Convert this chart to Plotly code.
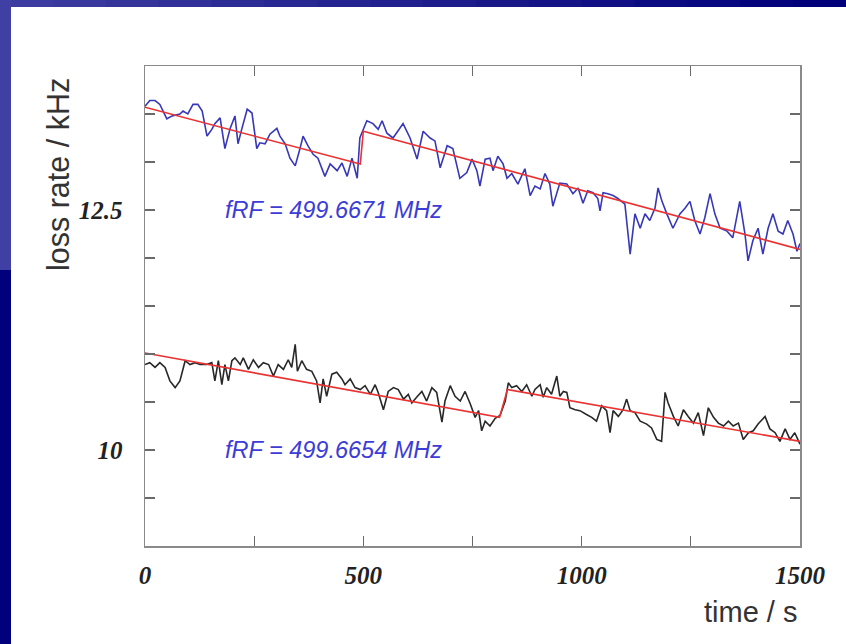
import plotly.graph_objects as go

# ---- data ----
time_blue = [0, 11, 23, 34, 50, 62, 80, 87, 98, 110,
             121, 131, 142, 153, 160, 172, 183, 195, 206, 213,
             222, 234, 245, 256, 263, 275, 286, 302, 309, 321,
             332, 344, 355, 362, 373, 385, 396, 412, 424, 440,
             451, 463, 474, 486, 492, 508, 522, 534, 543, 554,
             568, 591, 607, 623, 637, 653, 664, 676, 692, 705,
             721, 737, 749, 760, 767, 779, 790, 797, 808, 820,
             829, 840, 854, 870, 882, 893, 905, 916, 927, 934,
             950, 966, 980, 992, 1003, 1014, 1026, 1037, 1042, 1049,
             1060, 1072, 1083, 1099, 1111, 1122, 1134, 1145, 1156, 1168,
             1175, 1184, 1195, 1209, 1225, 1237, 1248, 1259, 1271, 1282,
             1294, 1305, 1317, 1333, 1346, 1362, 1374, 1381, 1392, 1404,
             1415, 1427, 1438, 1450, 1461, 1472, 1484, 1493, 1500]
loss_blue = [13.58, 13.64, 13.64, 13.60, 13.45, 13.48, 13.50, 13.53, 13.50, 13.60,
             13.60, 13.53, 13.27, 13.34, 13.40, 13.46, 13.14, 13.35, 13.48, 13.19,
             13.35, 13.55, 13.51, 13.14, 13.20, 13.19, 13.29, 13.35, 13.27, 13.19,
             13.04, 12.96, 13.14, 13.27, 13.17, 13.08, 13.04, 12.85, 12.98, 12.91,
             12.99, 12.85, 13.04, 12.83, 13.25, 13.43, 13.40, 13.34, 13.43, 13.30,
             13.25, 13.40, 13.25, 13.03, 13.32, 13.25, 13.22, 12.94, 13.17, 13.14,
             12.83, 12.89, 13.03, 12.91, 12.75, 13.03, 13.04, 12.91, 13.06, 12.98,
             12.83, 12.88, 12.77, 12.93, 12.65, 12.75, 12.72, 12.88, 12.77, 12.54,
             12.78, 12.77, 12.67, 12.73, 12.57, 12.70, 12.68, 12.62, 12.49, 12.68,
             12.67, 12.65, 12.62, 12.56, 12.04, 12.46, 12.31, 12.46, 12.39, 12.52,
             12.73, 12.59, 12.46, 12.31, 12.46, 12.52, 12.59, 12.39, 12.25, 12.42,
             12.67, 12.46, 12.31, 12.28, 12.21, 12.59, 12.25, 11.97, 12.18, 12.31,
             12.04, 12.31, 12.46, 12.28, 12.25, 12.39, 12.25, 12.07, 12.15]

time_black = [0, 11, 23, 34, 46, 57, 69, 80, 92, 103,
              115, 126, 141, 153, 160, 168, 176, 183, 191, 199,
              206, 218, 225, 237, 248, 260, 271, 283, 294, 305,
              317, 328, 336, 344, 349, 359, 370, 382, 393, 401,
              408, 416, 428, 439, 451, 458, 470, 481, 493, 504,
              516, 527, 534, 546, 557, 569, 580, 592, 603, 611,
              622, 634, 645, 657, 668, 680, 687, 699, 710, 722,
              733, 745, 756, 764, 771, 779, 790, 802, 813, 825,
              832, 840, 851, 863, 874, 886, 893, 905, 912, 920,
              931, 943, 950, 958, 966, 973, 985, 996, 1011, 1023,
              1034, 1046, 1057, 1065, 1072, 1084, 1095, 1103, 1111, 1122,
              1134, 1149, 1160, 1172, 1183, 1191, 1198, 1210, 1221, 1233,
              1244, 1256, 1267, 1279, 1290, 1302, 1313, 1325, 1336, 1347,
              1359, 1370, 1382, 1393, 1404, 1420, 1431, 1443, 1454, 1466,
              1477, 1488, 1500]
loss_black = [10.89, 10.91, 10.86, 10.91, 10.86, 10.72, 10.65, 10.72, 10.93, 10.89,
              10.91, 10.89, 10.89, 10.91, 10.72, 10.93, 10.68, 10.89, 10.72, 10.93,
              10.96, 10.89, 10.96, 10.84, 10.94, 10.86, 10.91, 10.89, 10.77, 10.89,
              10.84, 10.94, 10.86, 11.10, 10.82, 10.93, 10.84, 10.82, 10.72, 10.49,
              10.74, 10.56, 10.79, 10.81, 10.74, 10.68, 10.74, 10.65, 10.63, 10.67,
              10.58, 10.68, 10.60, 10.42, 10.61, 10.65, 10.63, 10.53, 10.58, 10.49,
              10.55, 10.61, 10.51, 10.65, 10.60, 10.29, 10.51, 10.67, 10.56, 10.51,
              10.61, 10.48, 10.34, 10.41, 10.20, 10.30, 10.25, 10.33, 10.36, 10.51,
              10.70, 10.65, 10.67, 10.61, 10.68, 10.56, 10.63, 10.68, 10.55, 10.65,
              10.58, 10.77, 10.56, 10.61, 10.60, 10.44, 10.42, 10.41, 10.37, 10.34,
              10.30, 10.46, 10.41, 10.18, 10.41, 10.35, 10.42, 10.53, 10.41, 10.39,
              10.30, 10.27, 10.23, 10.11, 10.09, 10.60, 10.49, 10.35, 10.25, 10.42,
              10.35, 10.28, 10.39, 10.15, 10.44, 10.34, 10.28, 10.25, 10.30, 10.25,
              10.28, 10.11, 10.18, 10.20, 10.27, 10.35, 10.22, 10.18, 10.09, 10.22,
              10.11, 10.18, 10.06]

# piecewise linear fits (red)
fit_blue_t = [0, 493, 500, 1500]
fit_blue_v = [13.57, 12.98, 13.32, 12.09]
fit_black_t = [0, 812, 830, 1500]
fit_black_v = [11.01, 10.34, 10.63, 10.09]

x_tickvals = [0, 250, 500, 750, 1000, 1250, 1500]
x_ticktext = ["0", "", "500", "", "1000", "", "1500"]
y_tickvals = [9.5, 10, 10.5, 11, 11.5, 12, 12.5, 13, 13.5]
y_ticktext = ["", "10", "", "", "", "", "12.5", "", ""]

label_blue = "fRF = 499.6671 MHz"
label_black = "fRF = 499.6654 MHz"

# ---- figure ----
W, H = 846, 644
ML, MR, MT, MB = 145, 46, 66, 98
PW, PH = W - ML - MR, H - MT - MB

def px(x):
    return (x - ML) / PW

def py(y):
    return (H - MB - y) / PH

fig = go.Figure()
fig.add_trace(go.Scatter(x=time_blue, y=loss_blue, mode="lines",
                         line=dict(color="rgb(55,55,185)", width=1.6), hoverinfo="skip"))
fig.add_trace(go.Scatter(x=time_black, y=loss_black, mode="lines",
                         line=dict(color="rgb(40,40,40)", width=1.6), hoverinfo="skip"))
fig.add_trace(go.Scatter(x=fit_blue_t, y=fit_blue_v, mode="lines",
                         line=dict(color="rgb(235,50,50)", width=1.6), hoverinfo="skip"))
fig.add_trace(go.Scatter(x=fit_black_t, y=fit_black_v, mode="lines",
                         line=dict(color="rgb(235,50,50)", width=1.6), hoverinfo="skip"))

shapes = []
# top band gradient
n = 16
for i in range(n):
    f = i / (n - 1)
    r = int(60 * (1 - f)); g = int(60 * (1 - f)); b = int(160 * (1 - f) + 122 * f)
    shapes.append(dict(type="rect", xref="paper", yref="paper", layer="below",
                       x0=px(W * i / n), x1=px(W * (i + 1) / n) + 0.002,
                       y0=py(7), y1=py(0), line=dict(width=0),
                       fillcolor=f"rgb({r},{g},{b})"))
# left band
shapes.append(dict(type="rect", xref="paper", yref="paper", layer="below",
                   x0=px(0), x1=px(11), y0=py(270), y1=py(0), line=dict(width=0),
                   fillcolor="rgb(64,64,164)"))
shapes.append(dict(type="rect", xref="paper", yref="paper", layer="below",
                   x0=px(0), x1=px(11), y0=py(H), y1=py(270), line=dict(width=0),
                   fillcolor="rgb(0,0,124)"))

axis_common = dict(showline=True, linecolor="#8a8a8a", linewidth=1.5, mirror="ticks",
                   ticks="inside", ticklen=10, tickwidth=1.3, tickcolor="#6a6a6a",
                   showgrid=False, zeroline=False,
                   tickfont=dict(family="Liberation Serif", size=25, color="#222",
                                 style="italic", weight="bold"))

fig.update_layout(
    width=W, height=H,
    margin=dict(l=ML, r=MR, t=MT, b=MB),
    paper_bgcolor="white", plot_bgcolor="white",
    showlegend=False,
    shapes=shapes,
    xaxis=dict(range=[0, 1500], tickmode="array", tickvals=x_tickvals, ticktext=x_ticktext,
               ticklabelstandoff=6, **axis_common),
    yaxis=dict(range=[9, 14], tickmode="array", tickvals=y_tickvals, ticktext=y_ticktext,
               ticklabelstandoff=16, **axis_common),
    annotations=[
        dict(x=178, y=12.5, xref="x", yref="y", text=label_blue, showarrow=False,
             xanchor="left", yanchor="middle",
             font=dict(family="Liberation Sans", size=23.5, color="rgb(60,60,215)", style="italic")),
        dict(x=178, y=10, xref="x", yref="y", text=label_black, showarrow=False,
             xanchor="left", yanchor="middle",
             font=dict(family="Liberation Sans", size=23.5, color="rgb(60,60,215)", style="italic")),
        dict(x=px(58), y=py(175), xref="paper", yref="paper", text="loss rate / kHz",
             showarrow=False, textangle=-90, xanchor="center", yanchor="middle",
             font=dict(family="Liberation Sans", size=30.5, color="#333")),
        dict(x=px(799), y=py(612), xref="paper", yref="paper", text="time / s",
             showarrow=False, xanchor="right", yanchor="middle",
             font=dict(family="Liberation Sans", size=29, color="#333")),
    ],
)

fig.write_html("out.html", post_script="document.body.style.margin='0';",
               config={"displayModeBar": False, "staticPlot": True})
